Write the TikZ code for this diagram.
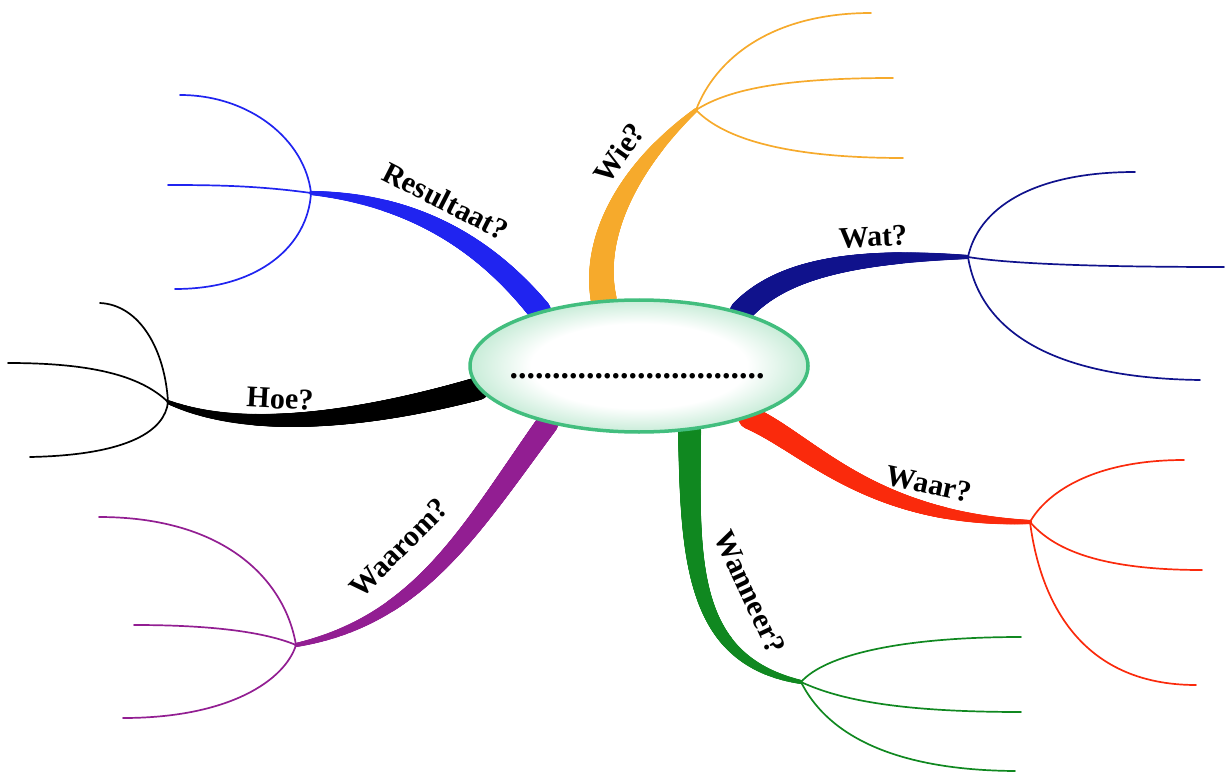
\documentclass[tikz,border=0pt]{standalone}
\usepackage{fontspec}
\setmainfont{Liberation Serif}
\usetikzlibrary{shapes.geometric,decorations.markings,backgrounds}
\definecolor{cblue}{RGB}{32,36,240}
\definecolor{corange}{RGB}{246,170,44}
\definecolor{cnavy}{RGB}{16,18,140}
\definecolor{cblack}{RGB}{0,0,0}
\definecolor{cpurple}{RGB}{146,30,146}
\definecolor{cgreen}{RGB}{16,136,32}
\definecolor{cred}{RGB}{250,42,12}
\definecolor{cmint}{RGB}{200,236,216}
\definecolor{cborder}{RGB}{66,190,126}
\pgfdeclareradialshading{ellshade}{\pgfpointorigin}{color(0bp)=(white); color(16bp)=(white); color(25bp)=(cmint); color(50bp)=(cmint)}
\tikzset{
  taper/.style n args={3}{decorate, decoration={markings,
      mark=between positions 0 and 1 step 0.8pt with {%
        \pgfmathsetmacro\tp{\pgfkeysvalueof{/pgf/decoration/mark info/distance from start}/\pgfdecoratedpathlength}%
        \fill[#1] (0pt,0pt) circle[radius={(#3+(#2-#3)*(1-\tp)*(1+0.5*\tp))*1pt}];}}},
  twig/.style={draw=#1, line width=1.7pt, line cap=round},
  lbl/.style={font=\bfseries\fontsize{30}{30}\selectfont, inner sep=0pt},
  centre/.style={ellipse, draw=cborder, line width=3.5pt, minimum width=338pt, minimum height=132pt, shading=ellshade},
  dotrow/.style={font=\bfseries\fontsize{34}{34}\selectfont, inner sep=0pt}
}
\begin{document}
\begin{tikzpicture}[x=1pt,y=-1pt]
\useasboundingbox (0,0) rectangle (1230,775);
% central ellipse
\node[centre] (c) at (639,366) {};
\node[dotrow] (dots) at (637,376) {..............................};
% branch points
\coordinate (bRes) at (311,193);
\coordinate (bWie) at (696,110);
\coordinate (bWat) at (968,257);
\coordinate (bHoe) at (168,402);
\coordinate (bWaarom) at (296,645);
\coordinate (bWanneer) at (801,682);
\coordinate (bWaar) at (1030,522);
% twig ends
\coordinate (eRes1) at (180,95);
\coordinate (eRes2) at (168,185);
\coordinate (eRes3) at (175,289);
\coordinate (eWie1) at (871,13);
\coordinate (eWie2) at (893,78);
\coordinate (eWie3) at (903,158);
\coordinate (eWat1) at (1135,172);
\coordinate (eWat2) at (1224,267);
\coordinate (eWat3) at (1200,380);
\coordinate (eHoe1) at (100,303);
\coordinate (eHoe2) at (8,363);
\coordinate (eHoe3) at (30,457);
\coordinate (eWaarom1) at (99,517);
\coordinate (eWaarom2) at (134,625);
\coordinate (eWaarom3) at (123,718);
\coordinate (eWanneer1) at (1021,637);
\coordinate (eWanneer2) at (1021,712);
\coordinate (eWanneer3) at (1015,771);
\coordinate (eWaar1) at (1184,460);
\coordinate (eWaar2) at (1202,570);
\coordinate (eWaar3) at (1196,685);
\begin{scope}[on background layer]
\path[taper={cblue}{11.5}{2}] (c.151) .. controls (490,250) and (420,200) .. (bRes);
\path[taper={corange}{13}{2}] (c.118) .. controls (592,240) and (625,170) .. (bWie);
\path[taper={cnavy}{11.5}{2}] (c.28) .. controls (780,270) and (850,255) .. (bWat);
\path[taper={cblack}{11.5}{2}] (c.188) .. controls (400,410) and (260,440) .. (bHoe);
\path[taper={cpurple}{11}{2}] (c.212) .. controls (470,530) and (420,620) .. (bWaarom);
\path[taper={cgreen}{11.5}{2}] (c.308) .. controls (690,560) and (690,660) .. (bWanneer);
\path[taper={cred}{11.5}{2}] (c.335) .. controls (810,445) and (870,520) .. (bWaar);
\end{scope}
% twigs
\draw[twig=cblue] (bRes) .. controls (305,140) and (250,95) .. (eRes1);
\draw[twig=cblue] (bRes) .. controls (260,186) and (220,185) .. (eRes2);
\draw[twig=cblue] (bRes) .. controls (308,245) and (260,289) .. (eRes3);
\draw[twig=corange] (bWie) .. controls (715,60) and (770,13) .. (eWie1);
\draw[twig=corange] (bWie) .. controls (730,88) and (790,78) .. (eWie2);
\draw[twig=corange] (bWie) .. controls (725,140) and (790,158) .. (eWie3);
\draw[twig=cnavy] (bWat) .. controls (978,210) and (1030,172) .. (eWat1);
\draw[twig=cnavy] (bWat) .. controls (1010,264) and (1100,267) .. (eWat2);
\draw[twig=cnavy] (bWat) .. controls (980,330) and (1050,378) .. (eWat3);
\draw[twig=cblack] (bHoe) .. controls (165,350) and (140,305) .. (eHoe1);
\draw[twig=cblack] (bHoe) .. controls (140,375) and (90,363) .. (eHoe2);
\draw[twig=cblack] (bHoe) .. controls (165,430) and (130,455) .. (eHoe3);
\draw[twig=cpurple] (bWaarom) .. controls (285,580) and (225,517) .. (eWaarom1);
\draw[twig=cpurple] (bWaarom) .. controls (260,630) and (200,625) .. (eWaarom2);
\draw[twig=cpurple] (bWaarom) .. controls (285,680) and (230,718) .. (eWaarom3);
\draw[twig=cgreen] (bWanneer) .. controls (825,655) and (900,637) .. (eWanneer1);
\draw[twig=cgreen] (bWanneer) .. controls (840,700) and (900,712) .. (eWanneer2);
\draw[twig=cgreen] (bWanneer) .. controls (820,720) and (870,770) .. (eWanneer3);
\draw[twig=cred] (bWaar) .. controls (1045,495) and (1090,460) .. (eWaar1);
\draw[twig=cred] (bWaar) .. controls (1050,545) and (1090,570) .. (eWaar2);
\draw[twig=cred] (bWaar) .. controls (1040,600) and (1080,685) .. (eWaar3);
% labels
\node[lbl, rotate=-27] (lRes) at (446,201) {Resultaat?};
\node[lbl, rotate=55] (lWie) at (619,153) {Wie?};
\node[lbl, rotate=3] (lWat) at (873,237) {Wat?};
\node[lbl, rotate=-3] (lHoe) at (280,399) {Hoe?};
\node[lbl, rotate=45] (lWaarom) at (399,548) {Waarom?};
\node[lbl, rotate=-65] (lWanneer) at (750,592) {Wanneer?};
\node[lbl, rotate=-12] (lWaar) at (929,484) {Waar?};
\end{tikzpicture}
\end{document}
